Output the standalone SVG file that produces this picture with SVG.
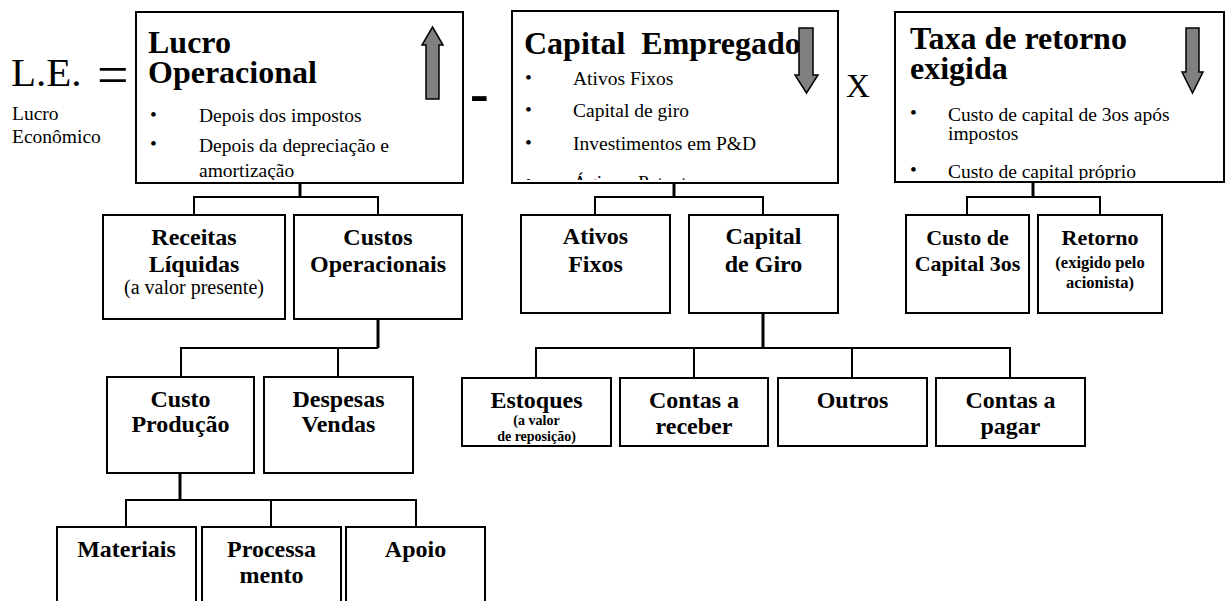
<svg xmlns="http://www.w3.org/2000/svg" width="1226" height="601" viewBox="0 0 1226 601">
<defs>
<style>
.box{fill:#fff;stroke:#000;stroke-width:2}
.t{font-family:"Liberation Serif","Times New Roman",serif;fill:#000}
.h{font-weight:bold;font-size:32px}
.b{font-size:19.5px}
.n{font-weight:bold;font-size:24px;text-anchor:middle}
.n2{font-weight:bold;font-size:22px;text-anchor:middle}
.s{font-size:20px;text-anchor:middle}
.sb{font-weight:bold;font-size:16.5px;text-anchor:middle}
.xs{font-weight:bold;font-size:14px;text-anchor:middle}
.arr{fill:#808080;stroke:#000;stroke-width:1.5}
.stem{stroke:#000;stroke-width:3;fill:none}
.br{stroke:#000;stroke-width:2;fill:none}
</style>
<clipPath id="c1"><rect x="137" y="13" width="325" height="167"/></clipPath>
<clipPath id="c2"><rect x="513" y="12" width="324" height="168"/></clipPath>
<clipPath id="c3"><rect x="896" y="13" width="328" height="167"/></clipPath>
</defs>

<g id="formula">
<text class="t" x="11" y="86" font-size="41">L.E.</text>
<text class="t" x="97" y="94" font-size="56">=</text>
<text class="t b" x="12" y="120">Lucro</text>
<text class="t b" x="12" y="143">Econômico</text>
<text class="t" x="470" y="112" font-size="56" font-weight="bold">-</text>
<text class="t" x="846" y="97" font-size="33">X</text>
</g>

<g id="connectors">
<path class="stem" d="M300,183V197"/>
<path class="br" d="M194,215V197H378V215"/>
<path class="stem" d="M674,183V197"/>
<path class="br" d="M595,215V197H763V215"/>
<path class="stem" d="M1033,182V197"/>
<path class="br" d="M967,215V197H1100V215"/>
<path class="stem" d="M378,319V348"/>
<path class="br" d="M181,377V348H378M338,348V377"/>
<path class="stem" d="M763,313V348"/>
<path class="br" d="M536,378V348H1010V378M694,348V378M852,348V378"/>
<path class="stem" d="M180,473V500"/>
<path class="br" d="M126,527V500H416V527M271,500V527"/>
</g>

<g id="lucro-operacional">
<rect class="box" x="136" y="12" width="327" height="171"/>
<g clip-path="url(#c1)">
<text class="t h" x="148" y="53">Lucro</text>
<text class="t h" x="148" y="83">Operacional</text>
<text class="t b" x="150" y="121">•</text>
<text class="t b" x="199" y="122">Depois dos impostos</text>
<text class="t b" x="150" y="150">•</text>
<text class="t b" x="199" y="152">Depois da depreciação e</text>
<text class="t b" x="199" y="177">amortização</text>
</g>
<polygon class="arr" points="432.5,27 443,45 439,45 439,99 426,99 426,45 422,45"/>
</g>

<g id="capital-empregado">
<rect class="box" x="512" y="11" width="326" height="172"/>
<g clip-path="url(#c2)">
<text class="t h" x="524" y="54" xml:space="preserve">Capital  Empregado</text>
<text class="t b" x="525" y="84">•</text>
<text class="t b" x="573" y="85">Ativos Fixos</text>
<text class="t b" x="525" y="116">•</text>
<text class="t b" x="573" y="117">Capital de giro</text>
<text class="t b" x="525" y="149">•</text>
<text class="t b" x="573" y="150">Investimentos em P&amp;D</text>
<text class="t b" x="525" y="188">•</text>
<text class="t b" x="573" y="189">Ágios e Patentes</text>
</g>
<polygon class="arr" points="799,28 813,28 813,75 818,75 806.5,93 795,75 799,75"/>
</g>

<g id="taxa-retorno">
<rect class="box" x="895" y="12" width="329" height="170"/>
<g clip-path="url(#c3)">
<text class="t h" x="910" y="49">Taxa de retorno</text>
<text class="t h" x="910" y="79">exigida</text>
<text class="t b" x="910" y="119">•</text>
<text class="t b" x="948" y="121">Custo de capital de 3os após</text>
<text class="t b" x="948" y="140">impostos</text>
<text class="t b" x="910" y="176">•</text>
<text class="t b" x="948" y="178">Custo de capital próprio</text>
</g>
<polygon class="arr" points="1186,28 1199,28 1199,72 1203,72 1192.5,93 1182,72 1186,72"/>
</g>

<g id="receitas"><rect class="box" x="103" y="215" width="182" height="104"/>
<text class="t n" x="194" y="245">Receitas</text><text class="t n" x="194" y="272">Líquidas</text><text class="t s" x="194" y="294">(a valor presente)</text></g>
<g id="custos-operacionais"><rect class="box" x="294" y="215" width="168" height="104"/>
<text class="t n" x="378" y="245">Custos</text><text class="t n" x="378" y="272">Operacionais</text></g>
<g id="ativos-fixos"><rect class="box" x="521" y="215" width="149" height="98"/>
<text class="t n" x="595.5" y="244">Ativos</text><text class="t n" x="595.5" y="272">Fixos</text></g>
<g id="capital-giro"><rect class="box" x="689" y="215" width="149" height="98"/>
<text class="t n" x="763.5" y="244">Capital</text><text class="t n" x="763.5" y="272">de Giro</text></g>
<g id="custo-capital-3os"><rect class="box" x="906" y="215" width="123" height="98"/>
<text class="t n2" x="967.5" y="245">Custo de</text><text class="t n2" x="967.5" y="271">Capital 3os</text></g>
<g id="retorno"><rect class="box" x="1038" y="215" width="124" height="98"/>
<text class="t n2" x="1100" y="245">Retorno</text><text class="t sb" x="1100" y="268">(exigido pelo</text><text class="t sb" x="1100" y="288">acionista)</text></g>

<g id="custo-producao"><rect class="box" x="107" y="377" width="147" height="96"/>
<text class="t n" x="180.5" y="407">Custo</text><text class="t n" x="180.5" y="432">Produção</text></g>
<g id="despesas-vendas"><rect class="box" x="264" y="377" width="149" height="96"/>
<text class="t n" x="338.5" y="407">Despesas</text><text class="t n" x="338.5" y="432">Vendas</text></g>

<g id="estoques"><rect class="box" x="462" y="378" width="149" height="68"/>
<text class="t n" x="536.5" y="408">Estoques</text><text class="t xs" x="536.5" y="425">(a valor</text><text class="t xs" x="536.5" y="441">de reposição)</text></g>
<g id="contas-receber"><rect class="box" x="620" y="378" width="148" height="68"/>
<text class="t n" x="694" y="408">Contas a</text><text class="t n" x="694" y="434">receber</text></g>
<g id="outros"><rect class="box" x="778" y="378" width="149" height="68"/>
<text class="t n" x="852.5" y="408">Outros</text></g>
<g id="contas-pagar"><rect class="box" x="936" y="378" width="149" height="68"/>
<text class="t n" x="1010.5" y="408">Contas a</text><text class="t n" x="1010.5" y="434">pagar</text></g>

<g id="materiais"><rect class="box" x="57" y="527" width="139" height="90"/>
<text class="t n" x="126.5" y="557">Materiais</text></g>
<g id="processamento"><rect class="box" x="202" y="527" width="139" height="90"/>
<text class="t n" x="271.5" y="557">Processa</text><text class="t n" x="271.5" y="583">mento</text></g>
<g id="apoio"><rect class="box" x="346" y="527" width="139" height="90"/>
<text class="t n" x="415.5" y="557">Apoio</text></g>
</svg>
